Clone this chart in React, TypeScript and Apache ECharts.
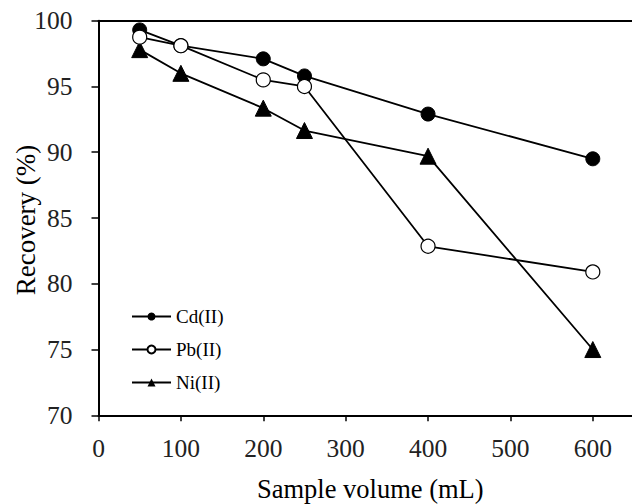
import React, { useEffect, useRef } from "react";
import * as echarts from "echarts";

const volumes = [50, 100, 200, 250, 400, 600];
const cdValues = [99.3, 98.1, 97.1, 95.8, 92.9, 89.5];
const pbValues = [98.75, 98.1, 95.5, 95.0, 82.85, 80.9];
const niValues = [97.8, 96.0, 93.35, 91.65, 89.7, 75.0];
const seriesNames = ["Cd(II)", "Pb(II)", "Ni(II)"];
const yTitle = "Recovery (%)";
const xTitle = "Sample volume (mL)";

const FONT = "'Liberation Serif', 'Times New Roman', serif";

export default function App() {
  const ref = useRef<HTMLDivElement>(null);
  useEffect(() => {
    if (!ref.current) return;
    const chart = echarts.init(ref.current, null, { renderer: "svg" });
    const mk = (vals: number[]) => volumes.map((v, i) => [v, vals[i]]);
    const lineStyle = { color: "#000", width: 1.8 };
    chart.setOption({
      animation: false,
      backgroundColor: "#fff",
      grid: {
        left: 98.5,
        top: 20.7,
        right: -2,
        bottom: 88.7,
        containLabel: false,
        outerBoundsMode: "none",
      },
      graphic: [
        {
          type: "text",
          x: 26,
          y: 220,
          rotation: Math.PI / 2,
          style: {
            text: yTitle,
            fontFamily: FONT,
            fontSize: 27,
            fill: "#000",
            align: "center",
            verticalAlign: "middle",
          },
        },
      ],
      legend: {
        orient: "vertical",
        left: 126,
        top: 302,
        itemWidth: 39,
        itemHeight: 10,
        itemGap: 14,
        textStyle: { fontFamily: FONT, fontSize: 19, color: "#000", padding: [0, 0, 0, 0] },
        data: seriesNames,
      },
      xAxis: [
        {
          type: "value",
          min: 0,
          max: 650,
          interval: 100,
          name: xTitle,
          nameLocation: "middle",
          nameGap: 60,
          nameTextStyle: { fontFamily: FONT, fontSize: 26.5, color: "#000", padding: [0, 0, 0, 8] },
          axisLine: { show: true, lineStyle: { color: "#000", width: 2 } },
          axisTick: { show: true, inside: false, length: 6, lineStyle: { color: "#000", width: 1.5 } },
          axisLabel: {
            fontFamily: FONT,
            fontSize: 25.5,
            color: "#222",
            margin: 20,
            showMaxLabel: false,
            formatter: (v: number) => (v > 600 ? "" : String(v)),
          },
          splitLine: { show: false },
        },
        {
          type: "value",
          position: "top",
          min: 0,
          max: 650,
          axisLine: { show: true, lineStyle: { color: "#000", width: 2 } },
          axisTick: { show: false },
          axisLabel: { show: false },
          splitLine: { show: false },
        },
      ],
      yAxis: {
        type: "value",
        min: 70,
        max: 100,
        interval: 5,
        axisLine: { show: true, lineStyle: { color: "#000", width: 2 } },
        axisTick: { show: true, inside: false, length: 7, lineStyle: { color: "#000", width: 1.5 } },
        axisLabel: { fontFamily: FONT, fontSize: 25.5, color: "#222", margin: 26 },
        splitLine: { show: false },
      },
      series: [
        {
          name: seriesNames[0],
          type: "line",
          data: mk(cdValues),
          symbol: "circle",
          symbolSize: 14,
          itemStyle: { color: "#000", borderColor: "#000" },
          lineStyle,
          z: 3,
        },
        {
          name: seriesNames[1],
          type: "line",
          data: mk(pbValues),
          symbol: "circle",
          symbolSize: 14,
          itemStyle: { color: "#fff", borderColor: "#000", borderWidth: 1.2 },
          lineStyle,
          z: 4,
        },
        {
          name: seriesNames[2],
          type: "line",
          data: mk(niValues),
          symbol: "triangle",
          symbolSize: 16,
          itemStyle: { color: "#000", borderColor: "#000" },
          lineStyle,
          z: 3,
        },
      ],
    });
    return () => chart.dispose();
  }, []);
  return <div ref={ref} style={{ width: 632, height: 504, position: "absolute", left: 0, top: 0 }} />;
}
